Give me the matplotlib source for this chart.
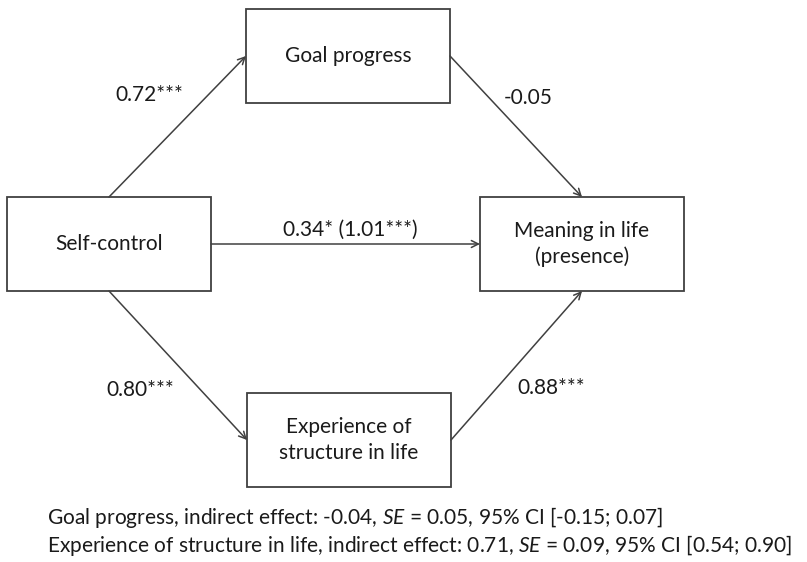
import matplotlib.pyplot as plt
from matplotlib.patches import Rectangle

plt.rcParams['font.family'] = ['Lato', 'DejaVu Sans']
plt.rcParams['mathtext.fontset'] = 'custom'
plt.rcParams['mathtext.rm'] = 'Lato'
plt.rcParams['mathtext.it'] = 'Lato:italic'

# Variables in the mediation model
node_names = ['Self-control', 'Goal progress', 'Meaning in life\n(presence)', 'Experience of\nstructure in life']

# Paths: from node, to node, coefficient label
path_from = [0, 1, 0, 0, 3]
path_to = [1, 2, 2, 3, 2]
path_labels = ['0.72***', '-0.05', '0.34* (1.01***)', '0.80***', '0.88***']

# Indirect effects note
indirect_names = ['Goal progress', 'Experience of structure in life']
indirect_effect = ['-0.04', '0.71']
indirect_se = ['0.05', '0.09']
indirect_ci = ['[-0.15; 0.07]', '[0.54; 0.90]']

# Layout (pixels, top-left origin)
box_left = [7, 246, 480, 247]
box_top = [197, 9, 197, 393]
box_w, box_h = 204, 94
# which side of each box a path leaves / enters
start_side = ['top', 'right', 'right', 'bottom', 'right']
end_side = ['left', 'top', 'left', 'left', 'bottom']
label_pos = [(149, 95), (528, 98), (350, 230), (140, 390), (551, 388)]

line_col = '#404040'
text_col = '#1a1a1a'
fs = 15


def anchor(i, side):
    x0, y0 = box_left[i], box_top[i]
    if side == 'top':
        return x0 + box_w / 2, y0
    if side == 'bottom':
        return x0 + box_w / 2, y0 + box_h
    if side == 'left':
        return x0, y0 + box_h / 2
    return x0 + box_w, y0 + box_h / 2


fig = plt.figure(figsize=(8.07, 5.62), dpi=100)
ax = fig.add_axes([0, 0, 1, 1])
ax.set_xlim(0, 807)
ax.set_ylim(562, 0)
ax.axis('off')

# Boxes
for i, name in enumerate(node_names):
    ax.add_patch(Rectangle((box_left[i], box_top[i]), box_w, box_h,
                           facecolor='white', edgecolor=line_col, lw=1.3))
    ax.text(box_left[i] + box_w / 2, box_top[i] + box_h / 2, name,
            ha='center', va='center', fontsize=fs, color=text_col, linespacing=1.35)

# Arrows and coefficients
for k in range(len(path_from)):
    p0 = anchor(path_from[k], start_side[k])
    p1 = anchor(path_to[k], end_side[k])
    ax.annotate('', xy=p1, xytext=p0,
                arrowprops=dict(arrowstyle='->,head_length=0.5,head_width=0.25',
                                color=line_col, lw=1.1, shrinkA=0, shrinkB=0))
    ax.text(label_pos[k][0], label_pos[k][1], path_labels[k],
            ha='center', va='center', fontsize=fs, color=text_col)

# Note below the diagram
for j in range(len(indirect_names)):
    note = (f'{indirect_names[j]}, indirect effect: {indirect_effect[j]}, '
            f'$SE$ = {indirect_se[j]}, 95% CI {indirect_ci[j]}')
    ax.text(47, 518 + 27 * j, note, ha='left', va='center', fontsize=fs, color=text_col)

fig.savefig('out.png', dpi=100, facecolor='white')
